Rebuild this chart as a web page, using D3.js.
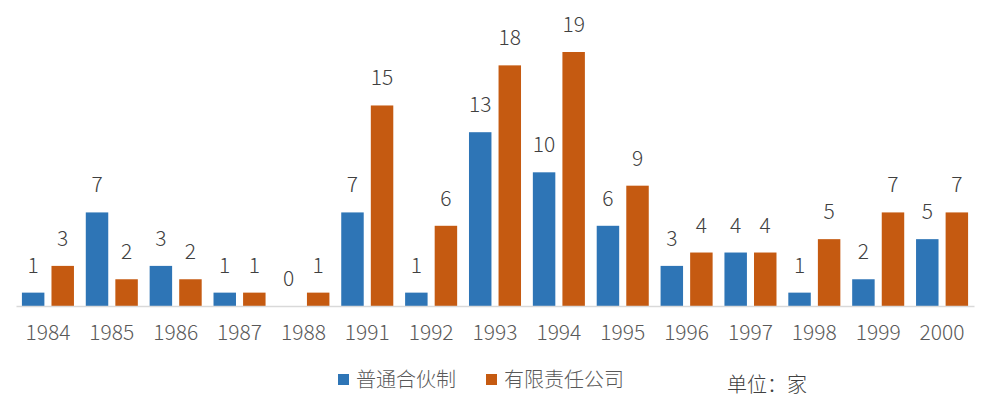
<!DOCTYPE html>
<html>
<head>
<meta charset="utf-8">
<script src="https://cdn.jsdelivr.net/npm/d3@7"></script>
<style>
  body { margin: 0; background: #fff; }
  svg { display: block; font-family: "Noto Sans CJK SC", "Noto Sans", sans-serif; font-weight: 300; }
</style>
</head>
<body>
<svg id="chart" width="986" height="399"></svg>
<script>
// data
const years = ["1984", "1985", "1986", "1987", "1988", "1991", "1992", "1993", "1994", "1995", "1996", "1997", "1998", "1999", "2000"];
const partnership = [1, 7, 3, 1, 0, 7, 1, 13, 10, 6, 3, 4, 1, 2, 5];
const limited = [3, 2, 2, 1, 1, 15, 6, 18, 19, 9, 4, 4, 5, 7, 7];
const seriesNames = ["普通合伙制", "有限责任公司"];
const colors = ["#2E75B6", "#C55A11"];
const unitLabel = "单位：家";

const svg = d3.select("#chart");
const plotLeft = 16, plotRight = 974, baseY = 306, topY = 52;

const x = d3.scaleBand().domain(years).range([plotLeft, plotRight]).paddingInner(0).paddingOuter(0);
const x1 = d3.scaleBand().domain([0, 1]).range([0, x.bandwidth()]).paddingInner(0.24).paddingOuter(0.2);
const y = d3.scaleLinear().domain([0, 19]).range([baseY, topY]);

const rows = years.map((yr, i) => ({ year: yr, vals: [partnership[i], limited[i]] }));

// bars
const groups = svg.append("g").selectAll("g")
    .data(rows).enter().append("g")
    .attr("transform", d => `translate(${x(d.year)},0)`);

groups.selectAll("rect")
    .data(d => d.vals.map((v, k) => ({ v, k })))
    .enter().append("rect")
    .attr("x", d => x1(d.k))
    .attr("width", x1.bandwidth())
    .attr("y", d => y(d.v))
    .attr("height", d => baseY - y(d.v))
    .attr("fill", d => colors[d.k]);

// value labels
groups.selectAll("text")
    .data(d => d.vals.map((v, k) => ({ v, k })))
    .enter().append("text")
    .attr("x", d => x1(d.k) + x1.bandwidth() / 2)
    .attr("y", d => y(d.v) - 20)
    .attr("text-anchor", "middle")
    .attr("font-size", 21)
    .attr("fill", "#404040")
    .text(d => d.v);

// axis
const axis = svg.append("g")
    .attr("transform", `translate(0,${baseY})`)
    .call(d3.axisBottom(x).tickSize(0).tickPadding(19));
axis.select(".domain").attr("stroke", "#d9d9d9").attr("stroke-width", 1.5);
axis.selectAll("text")
    .attr("font-size", 21)
    .attr("font-family", "\"Noto Sans CJK SC\", \"Noto Sans\", sans-serif")
    .attr("font-weight", 300)
    .attr("fill", "#595959");

// legend
const legendX = [338, 486];
const legend = svg.append("g").selectAll("g")
    .data(seriesNames).enter().append("g")
    .attr("transform", (d, i) => `translate(${legendX[i]},374)`);
legend.append("rect").attr("width", 11).attr("height", 11).attr("fill", (d, i) => colors[i]);
legend.append("text")
    .attr("x", 18).attr("y", 13)
    .attr("font-size", 20)
    .attr("fill", "#595959")
    .text(d => d);

svg.append("text")
    .attr("x", 727).attr("y", 392)
    .attr("font-size", 20)
    .attr("fill", "#404040")
    .text(unitLabel);
</script>
</body>
</html>
